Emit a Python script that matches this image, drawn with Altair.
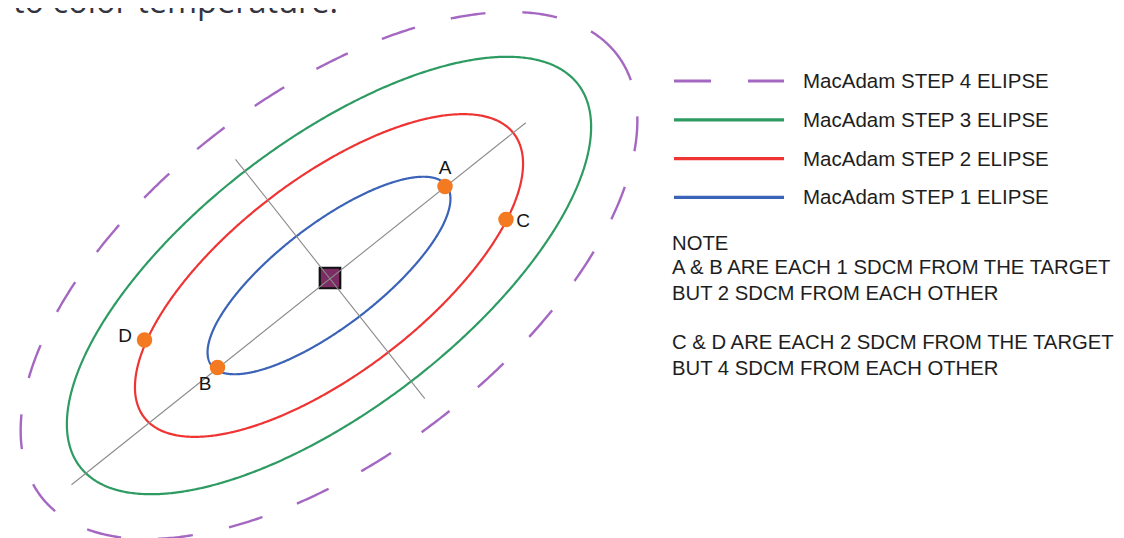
import altair as alt
import numpy as np
import pandas as pd

# ---------------- data (diagram pixel units, y grows downward) -------------
ellipse_names = ["MacAdam STEP 4 ELIPSE", "MacAdam STEP 3 ELIPSE",
                 "MacAdam STEP 2 ELIPSE", "MacAdam STEP 1 ELIPSE"]
ellipse_semi_major = [363, 314, 233, 148]
ellipse_semi_minor = [181, 134, 97, 51]
ellipse_dashed = [True, False, False, False]
ellipse_colors = ["#a568c2", "#2e9b63", "#ef3434", "#3b63b7"]
ellipse_center = [329, 275.5]
ellipse_tilt_deg = 37.5

target_center = [330, 278]

axis_x1 = [71.5, 235.5]
axis_y1 = [484.7, 159.3]
axis_x2 = [525.8, 424.8]
axis_y2 = [122.7, 398.7]

point_labels = ["A", "B", "C", "D"]
point_x = [445, 217.5, 506, 144.5]
point_y = [186.5, 367.5, 219.5, 340]
label_x = [445, 205, 523, 125]
label_y = [167.5, 383.5, 221, 336]

note_lines = ["NOTE",
              "A & B ARE EACH 1 SDCM FROM THE TARGET",
              "BUT 2 SDCM FROM EACH OTHER",
              "C & D ARE EACH 2 SDCM FROM THE TARGET",
              "BUT 4 SDCM FROM EACH OTHER"]
header_text = "to color temperature."

# ---------------- layout ----------------
W, H = 1108, 530
legend_x1, legend_x2, legend_text_x = 674, 784, 803
legend_y0, legend_step = 81, 38.8
note_x = 672
note_baselines = [249.5, 274, 299.5, 348.5, 374.5]
header_pos = (13, 13)

xs = alt.Scale(domain=[8, 8 + W], nice=False, zero=False)
ys = alt.Scale(domain=[8, 8 + H], nice=False, zero=False, reverse=True)
X = lambda f: alt.X(f, type="quantitative", scale=xs, axis=None)
Y = lambda f: alt.Y(f, type="quantitative", scale=ys, axis=None)
color_scale = alt.Scale(domain=ellipse_names, range=ellipse_colors)

# ---------------- build tables ----------------
rows = []
th = np.deg2rad(ellipse_tilt_deg)
t = np.linspace(0, 2 * np.pi, 721)
for name, a, b, dashed in zip(ellipse_names, ellipse_semi_major, ellipse_semi_minor, ellipse_dashed):
    ex = ellipse_center[0] + a * np.cos(t) * np.cos(th) - b * np.sin(t) * np.sin(th)
    ey = ellipse_center[1] - (a * np.cos(t) * np.sin(th) + b * np.sin(t) * np.cos(th))
    for i, (px, py) in enumerate(zip(ex, ey)):
        rows.append({"name": name, "i": i, "x": px, "y": py, "dashed": dashed})
ell = pd.DataFrame(rows)

axes_df = pd.DataFrame({"x": axis_x1, "y": axis_y1, "x2": axis_x2, "y2": axis_y2})
center_df = pd.DataFrame({"x": [target_center[0]], "y": [target_center[1]]})
pts_df = pd.DataFrame({"label": point_labels, "x": point_x, "y": point_y})
lab_df = pd.DataFrame({"label": point_labels, "x": label_x, "y": label_y})
leg_df = pd.DataFrame({
    "name": ellipse_names,
    "dashed": ellipse_dashed,
    "x": [legend_x1] * 4,
    "x2": [legend_x2] * 4,
    "tx": [legend_text_x] * 4,
    "y": [legend_y0 + k * legend_step for k in range(4)],
})
leg_df["ty"] = leg_df["y"] + 7
note_df = pd.DataFrame({"text": note_lines, "x": [note_x] * 5, "y": note_baselines})
head_df = pd.DataFrame({"text": [header_text], "x": [header_pos[0]], "y": [header_pos[1]]})

# ---------------- layers ----------------
header = alt.Chart(head_df).mark_text(
    align="left", baseline="alphabetic", fontSize=32.5, font="Open Sans",
    color="#34343f", clip=False
).encode(x=X("x"), y=Y("y"), text="text:N")

ell_dashed = alt.Chart(ell[ell["dashed"]]).mark_line(
    strokeWidth=2.4, strokeDash=[35, 37], clip=False
).encode(x=X("x"), y=Y("y"), order="i:Q",
         color=alt.Color("name:N", scale=color_scale, legend=None), detail="name:N")

ell_solid = alt.Chart(ell[~ell["dashed"]]).mark_line(
    strokeWidth=2.2, clip=False
).encode(x=X("x"), y=Y("y"), order="i:Q",
         color=alt.Color("name:N", scale=color_scale, legend=None), detail="name:N")

square = alt.Chart(center_df).mark_point(
    shape="square", size=420, filled=True, fill="#7b2c63", stroke="#111111",
    strokeWidth=2.2, opacity=1
).encode(x=X("x"), y=Y("y"))

axes = alt.Chart(axes_df).mark_rule(color="#8a8a8a", strokeWidth=1.1).encode(
    x=X("x"), y=Y("y"), x2="x2:Q", y2="y2:Q")

points = alt.Chart(pts_df).mark_circle(size=240, color="#f47a22", opacity=1).encode(
    x=X("x"), y=Y("y"))

labels = alt.Chart(lab_df).mark_text(
    fontSize=19, font="Liberation Sans", color="#151515", align="center", baseline="middle"
).encode(x=X("x"), y=Y("y"), text="label:N")

leg_solid = alt.Chart(leg_df[~leg_df["dashed"]]).mark_rule(strokeWidth=3.2).encode(
    x=X("x"), x2="x2:Q", y=Y("y"),
    color=alt.Color("name:N", scale=color_scale, legend=None))
leg_dash = alt.Chart(leg_df[leg_df["dashed"]]).mark_rule(strokeWidth=3.2, strokeDash=[37, 37]).encode(
    x=X("x"), x2="x2:Q", y=Y("y"),
    color=alt.Color("name:N", scale=color_scale, legend=None))
leg_text = alt.Chart(leg_df).mark_text(
    align="left", baseline="alphabetic", fontSize=20.5, font="Liberation Sans", color="#1e1e1e"
).encode(x=X("tx"), y=Y("ty"), text="name:N")

note = alt.Chart(note_df).mark_text(
    align="left", baseline="alphabetic", fontSize=20.3, font="Liberation Sans", color="#1e1e1e"
).encode(x=X("x"), y=Y("y"), text="text:N")

chart = alt.layer(
    header, ell_dashed, ell_solid, square, axes, points, labels,
    leg_dash, leg_solid, leg_text, note
).properties(
    width=W, height=H, padding=0,
    autosize=alt.AutoSizeParams(type="none"),
    background="#ffffff"
).configure_view(strokeWidth=0)

chart.save("out.html", embed_options={"renderer": "svg", "actions": False})
